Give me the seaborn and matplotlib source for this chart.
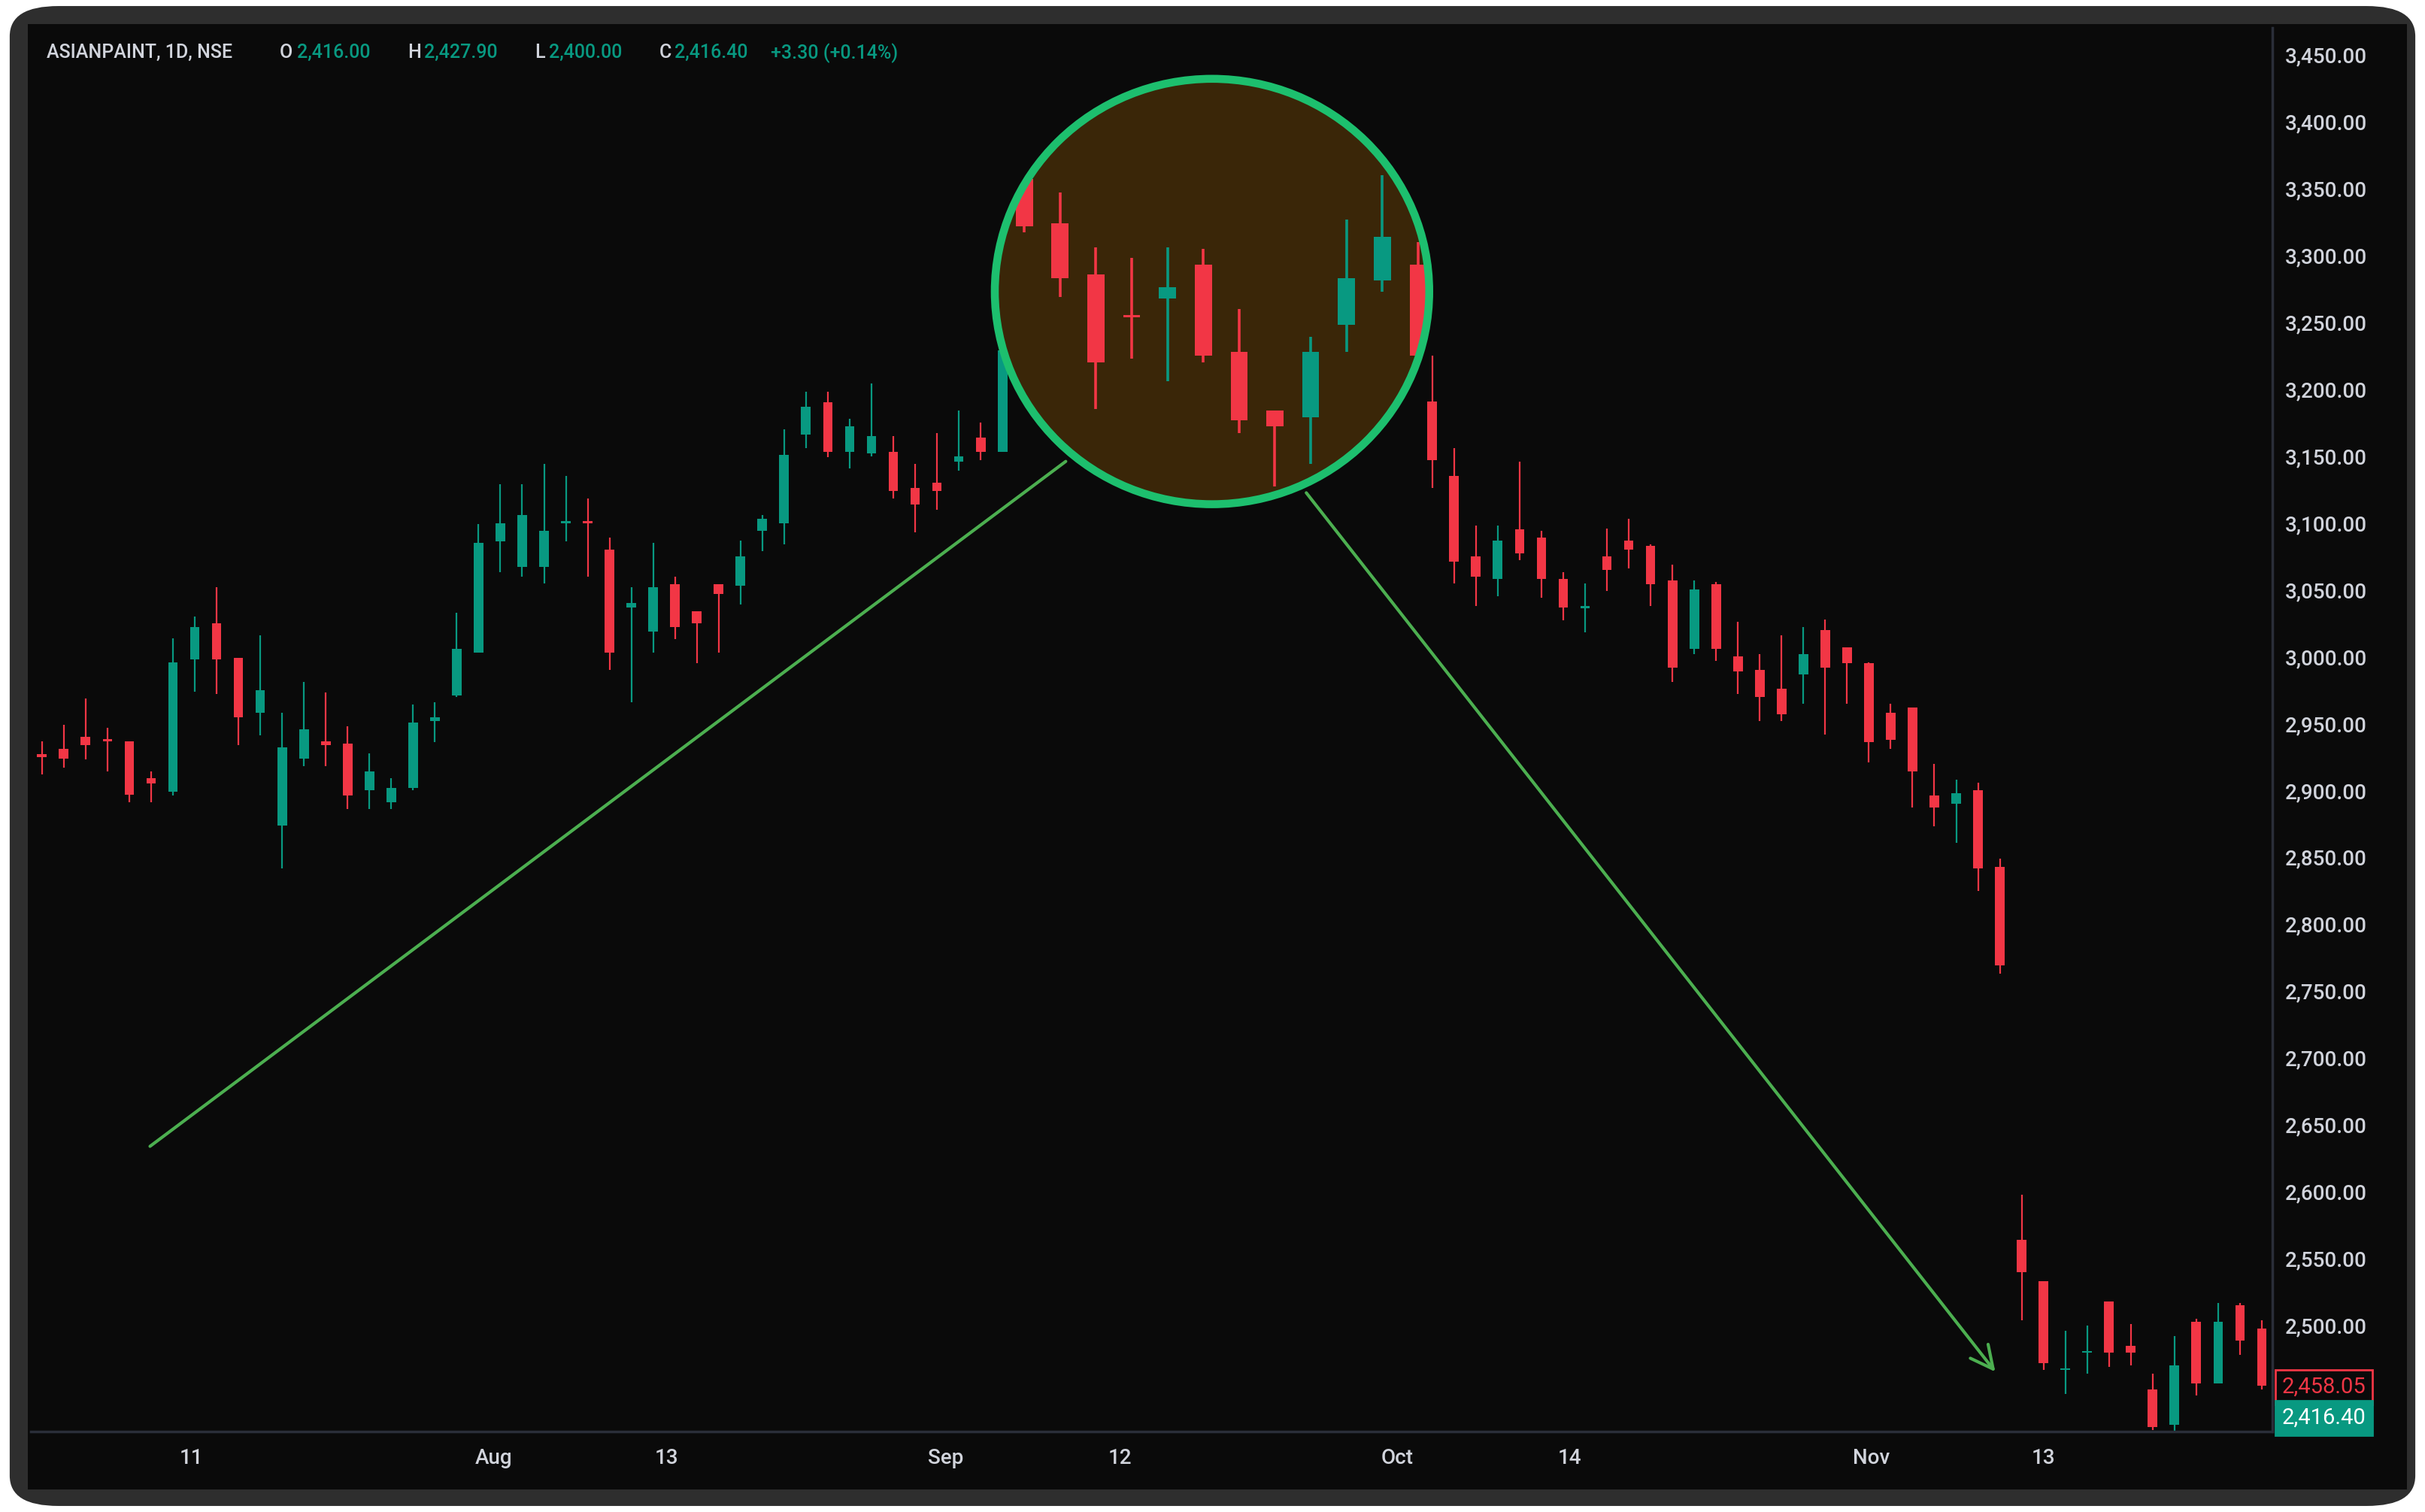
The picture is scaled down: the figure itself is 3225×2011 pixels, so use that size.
import matplotlib.pyplot as plt
import matplotlib.ticker as mticker
from matplotlib.patches import Ellipse, FancyBboxPatch, Rectangle
import seaborn as sns
import numpy as np

# daily candles, ASIANPAINT 1D
opens = [2927, 2931, 2940, 2938, 2937, 2909, 2899, 2998, 3025, 2999, 2958, 2874, 2924, 2937, 2935, 2900,
         2891, 2902, 2952, 2971, 3003, 3086, 3067, 3067, 3100, 3101, 3080, 3037, 3019, 3054, 3034, 3054,
         3053, 3094, 3100, 3166, 3190, 3153, 3152, 3153, 3126, 3130, 3146, 3164, 3153,
         3357, 3324, 3286, 3255, 3268, 3293, 3228, 3184, 3179, 3248, 3281, 3293,
         3191, 3135, 3075, 3058, 3095, 3089, 3058, 3036, 3075, 3087, 3083, 3057, 3006, 3054, 3000, 2990,
         2976, 2987, 3020, 3007, 2995, 2958, 2962, 2896, 2890, 2900, 2843,
         2564, 2533, 2467, 2480, 2518, 2485, 2452, 2426, 2503, 2457, 2515, 2498]
highs = [2937, 2949, 2969, 2947, 2937, 2914, 3014, 3030, 3052, 2999, 3016, 2958, 2981, 2973, 2948, 2928,
         2909, 2964, 2966, 3033, 3099, 3129, 3129, 3144, 3135, 3118, 3089, 3052, 3085, 3060, 3034, 3054,
         3087, 3106, 3170, 3198, 3198, 3178, 3204, 3165, 3144, 3167, 3184, 3175, 3235,
         3362, 3347, 3306, 3298, 3306, 3305, 3260, 3184, 3239, 3327, 3360, 3310,
         3225, 3156, 3098, 3098, 3146, 3094, 3063, 3055, 3096, 3103, 3084, 3069, 3057, 3056, 3026, 3002,
         3016, 3022, 3028, 3007, 2996, 2965, 2962, 2920, 2908, 2906, 2849,
         2598, 2533, 2496, 2500, 2518, 2501, 2464, 2492, 2505, 2517, 2517, 2504]
lows = [2912, 2917, 2923, 2914, 2891, 2891, 2896, 2974, 2972, 2934, 2941, 2842, 2918, 2918, 2886, 2886,
        2886, 2900, 2936, 2970, 3003, 3063, 3060, 3055, 3086, 3060, 2990, 2966, 3003, 3013, 2995, 3003,
        3039, 3079, 3084, 3156, 3149, 3141, 3150, 3118, 3093, 3110, 3139, 3147, 3153,
        3317, 3269, 3185, 3223, 3206, 3220, 3167, 3127, 3144, 3228, 3273, 3225,
        3126, 3055, 3038, 3045, 3072, 3044, 3027, 3018, 3049, 3066, 3038, 2981, 3002, 2997, 2972, 2952,
        2952, 2965, 2942, 2965, 2921, 2931, 2887, 2873, 2861, 2825, 2763,
        2504, 2467, 2449, 2464, 2469, 2470, 2422, 2421, 2448, 2457, 2478, 2452]
closes = [2925, 2924, 2934, 2937, 2897, 2905, 2996, 3022, 2998, 2955, 2975, 2932, 2946, 2934, 2896, 2914,
          2902, 2951, 2955, 3006, 3085, 3100, 3106, 3094, 3101, 3100, 3003, 3040, 3052, 3022, 3025, 3047,
          3075, 3103, 3151, 3187, 3153, 3172, 3165, 3124, 3114, 3124, 3150, 3153, 3229,
          3322, 3283, 3220, 3254, 3276, 3225, 3177, 3172, 3228, 3283, 3314, 3225,
          3147, 3071, 3060, 3087, 3077, 3058, 3037, 3038, 3065, 3080, 3054, 2992, 3050, 3006, 2989, 2970,
          2957, 3002, 2992, 2995, 2936, 2938, 2914, 2887, 2898, 2842, 2769,
          2540, 2472, 2468, 2481, 2480, 2480, 2424, 2470, 2457, 2503, 2489, 2455]

lens_idx = range(45, 57)          # candles shown inside the magnifier circle
date_labels = ["11", "Aug", "13", "Sep", "12", "Oct", "14", "Nov", "13"]
date_pos = [6.85, 20.7, 28.6, 41.4, 49.4, 62.1, 70.0, 83.8, 91.7]
price_ticks = np.arange(2500, 3451, 50)

GREEN, RED = "#089981", "#f23645"
TXT = "#d1d4dc"
BG = "#0a0a0a"

# x layout: magnified spacing inside the lens
gaps = []
for i in range(1, len(opens)):
    if i in lens_idx and i - 1 in lens_idx:
        gaps.append(1.64)
    elif i == 57:
        gaps.append(0.65)
    else:
        gaps.append(1.0)
xpos = np.concatenate([[0], np.cumsum(gaps)])

sns.set_theme(style="dark")
plt.rcParams["font.family"] = ["Roboto", "DejaVu Sans"]

fig = plt.figure(figsize=(16.125, 10.055), dpi=200)
fig.patch.set_facecolor("white")
fig.patches.append(FancyBboxPatch((0.004, 0.004), 0.992, 0.992, boxstyle="round,pad=0,rounding_size=0.02",
                                  transform=fig.transFigure, facecolor="#2e2e2e", edgecolor="none", zorder=-2))
fig.patches.append(Rectangle((0.0115, 0.015), 0.981, 0.969, transform=fig.transFigure,
                             facecolor=BG, edgecolor="none", zorder=-1))

ax = fig.add_axes([0.0128, 0.0534, 0.9244, 0.9281])
ax.set_facecolor(BG)
for s in ax.spines.values():
    s.set_visible(False)
ax.spines["right"].set_visible(True)
ax.spines["right"].set_color("#2a2e39")
ax.spines["bottom"].set_visible(True)
ax.spines["bottom"].set_color("#2a2e39")

ax.set_xlim(xpos[0] - 0.5, xpos[-1] + 0.5)
ax.set_ylim(2421, 3470)

# magnifier circle
ecx, ecy = 53.6, 3273
ell_fill = Ellipse((ecx, ecy), 19.9, 318, facecolor="#3a2608", edgecolor="none", zorder=3)
ax.add_patch(ell_fill)
clip = Ellipse((ecx, ecy), 19.9, 318, transform=ax.transData)

for i, (o, h, l, c) in enumerate(zip(opens, highs, lows, closes)):
    col = GREEN if c >= o else RED
    lens = i in lens_idx
    w = 0.78 if lens else 0.44
    lw = 1.3 if lens else 0.8
    z = 4 if lens else 2
    wick = ax.vlines(xpos[i], l, h, color=col, linewidth=lw, zorder=z)
    body = ax.bar(xpos[i], max(abs(c - o), 1.2), bottom=min(o, c), width=w, color=col,
                  linewidth=0, zorder=z)
    if lens:
        wick.set_clip_path(clip)
        for b in body:
            b.set_clip_path(clip)

ax.add_patch(Ellipse((ecx, ecy), 19.9, 318, facecolor="none", edgecolor="#1dbf6e",
                     linewidth=3.8, zorder=5))

# trend lines
ax.plot([4.95, 46.9], [2634, 3146], color="#4caf50", linewidth=1.5, zorder=6)
ax.annotate("", xy=(89.6, 2463), xytext=(57.8, 3125),
            arrowprops=dict(arrowstyle="->,head_length=0.9,head_width=0.45", color="#4caf50", lw=1.5),
            zorder=6)

# axes labels
ax.yaxis.tick_right()
ax.set_yticks(price_ticks)
ax.yaxis.set_major_formatter(mticker.FuncFormatter(lambda v, _: f"{v:,.2f}"))
ax.tick_params(axis="y", colors=TXT, labelsize=10, length=0, pad=6)
ax.set_xticks(date_pos)
ax.set_xticklabels(date_labels)
ax.tick_params(axis="x", colors=TXT, labelsize=10, length=0, pad=8)
for t in ax.get_xticklabels() + ax.get_yticklabels():
    t.set_fontweight("medium")
ax.grid(False)

# price tags
ax.text(1.004, 0.0315, "2,458.05", transform=ax.transAxes, color=RED, fontsize=10.5, va="center",
        bbox=dict(boxstyle="square,pad=0.3", facecolor=BG, edgecolor=RED, linewidth=1))
ax.text(1.004, 0.0095, "2,416.40", transform=ax.transAxes, color="white", fontsize=10.5, va="center",
        bbox=dict(boxstyle="square,pad=0.3", facecolor=GREEN, edgecolor=GREEN, linewidth=1))

# header
hy = 1 - 34 / 973
parts = [(30, "ASIANPAINT, 1D, NSE", TXT), (180, "O", TXT), (191, "2,416.00", GREEN),
         (262, "H", TXT), (273, "2,427.90", GREEN), (344, "L", TXT), (353, "2,400.00", GREEN),
         (424, "C", TXT), (434, "2,416.40", GREEN), (496, "+3.30 (+0.14%)", GREEN)]
for px, s, col in parts:
    fig.text(px / 1560, hy, s, color=col, fontsize=9, va="center", fontweight="medium")

fig.savefig("out.png", dpi=200, facecolor=fig.get_facecolor())
